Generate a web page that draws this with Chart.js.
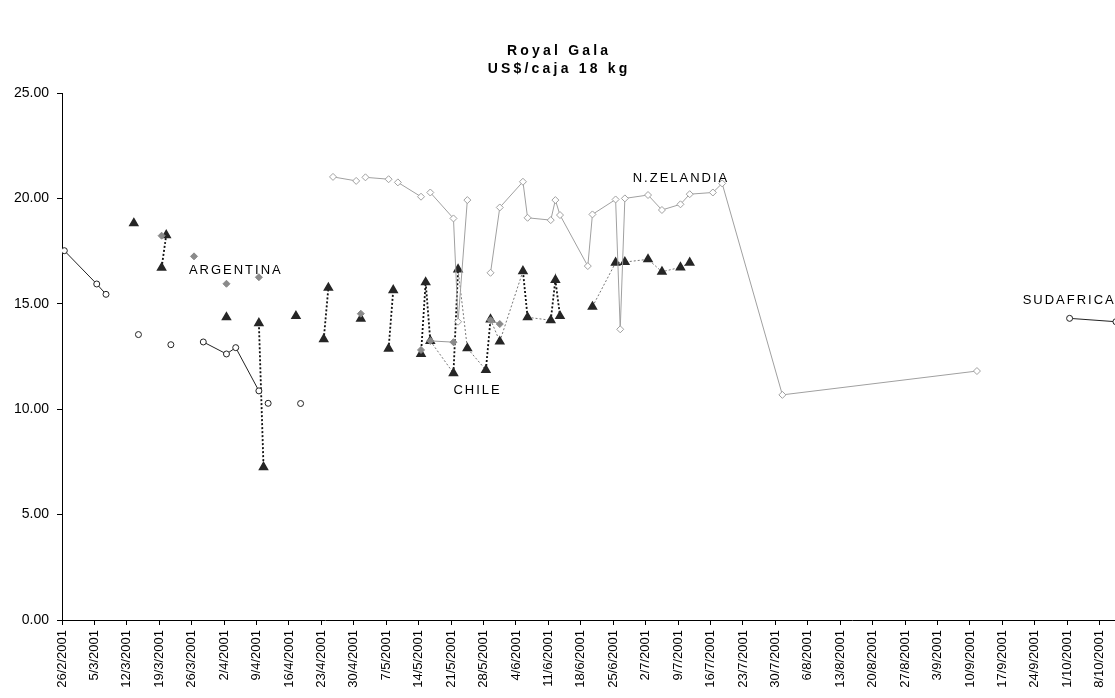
<!DOCTYPE html>
<html>
<head>
<meta charset="utf-8">
<script src="https://cdn.jsdelivr.net/npm/chart.js@4/dist/chart.umd.min.js"></script>
<style>
  html, body { margin: 0; padding: 0; background: #fff; }
</style>
</head>
<body>
<canvas id="chart" width="1115" height="698"></canvas>
<script>
const FONT = "'Liberation Sans', Arial, sans-serif";

// weekly tick labels on the date axis
const tickLabels = [
  "26/2/2001", "5/3/2001", "12/3/2001", "19/3/2001", "26/3/2001", "2/4/2001", "9/4/2001",
  "16/4/2001", "23/4/2001", "30/4/2001", "7/5/2001", "14/5/2001", "21/5/2001", "28/5/2001",
  "4/6/2001", "11/6/2001", "18/6/2001", "25/6/2001", "2/7/2001", "9/7/2001", "16/7/2001",
  "23/7/2001", "30/7/2001", "6/8/2001", "13/8/2001", "20/8/2001", "27/8/2001", "3/9/2001",
  "10/9/2001", "17/9/2001", "24/9/2001", "1/10/2001", "8/10/2001"
];

// null value = blank cell (line breaks there)
const sudafricaDates = ["26/2", "5/3", "7/3", "12/3", "14/3", "19/3", "21/3", "26/3", "28/3", "2/4", "4/4", "9/4", "10/4", "11/4", "17/4", "18/4", "20/4", "1/10", "11/10"];
const sudafricaValues = [17.52, 15.94, 15.45, null, 13.54, null, 13.06, null, 13.19, 12.62, 12.92, 10.87, null, 10.28, null, 10.27, null, 14.31, 14.15];

const chileDates = ["13/3", "14/3", "19/3", "20/3", "21/3", "2/4", "3/4", "9/4", "10/4", "11/4", "17/4", "18/4",
  "23/4", "24/4", "25/4", "1/5", "2/5", "7/5", "8/5", "9/5",
  "14/5", "15/5", "16/5", "21/5", "22/5", "24/5", "28/5", "29/5", "31/5", "5/6", "6/6", "11/6", "12/6", "13/6", "14/6",
  "20/6", "25/6", "27/6", "2/7", "5/7", "9/7", "11/7"];
const chileValues = [18.82, null, 16.71, 18.26, null, 14.36, null, 14.08, 7.25, null, 14.42, null,
  13.32, 15.76, null, 14.29, null, 12.87, 15.65, null,
  12.62, 16.02, 13.24, 11.71, 16.63, 12.89, 11.86, 14.26, 13.21, 16.55, 14.36, 14.22, 16.13, 14.42, null,
  14.86, 16.95, 16.98, 17.11, 16.52, 16.73, 16.95];

const argentinaDates = ["19/3", "20/3", "26/3", "27/3", "2/4", "3/4", "9/4", "10/4", "1/5", "2/5", "14/5", "15/5", "16/5", "21/5", "22/5", "29/5", "31/5"];
const argentinaValues = [18.23, null, 17.25, null, 15.95, null, 16.26, null, 14.53, null, 12.81, null, 13.24, 13.18, null, 14.22, 14.04];

const zelandiaDates = ["25/4", "30/4", "1/5", "2/5", "7/5", "8/5", "9/5", "14/5", "15/5", "16/5", "21/5", "22/5", "24/5", "25/5",
  "29/5", "31/5", "5/6", "6/6", "11/6", "12/6", "13/6", "19/6", "20/6", "25/6", "26/6", "27/6", "2/7", "5/7", "9/7", "11/7",
  "16/7", "18/7", "31/7", "11/9"];
const zelandiaValues = [21.02, 20.83, null, 21.0, 20.91, null, 20.76, 20.08, null, 20.28, 19.05, 14.15, 19.92, null,
  16.47, 19.57, 20.79, 19.08, 18.97, 19.92, 19.21, 16.79, 19.24, 19.95, 13.79, 20.0, 20.16, 19.45, 19.72, 20.2,
  20.28, 20.71, 10.68, 11.81];

// text labels placed in data units
const seriesNames = ["ARGENTINA", "CHILE", "N.ZELANDIA", "SUDAFRICA"];
const nameDays = [37.3, 89.5, 133.4, 217.2];
const nameValues = [16.57, 10.91, 20.95, 15.18];

const START = Date.UTC(2001, 1, 26);
function dayOf(s) {
  const [d, m] = s.split("/").map(Number);
  return Math.round((Date.UTC(2001, m - 1, d) - START) / 86400000);
}
// points sit in the middle of their day, like Excel's date axis
function toPoints(dates, values) {
  return dates.map((d, i) => ({ x: dayOf(d) + 0.5, y: values[i] }));
}

const namesPlugin = {
  id: "names",
  afterDatasetsDraw(chart) {
    const ctx = chart.ctx;
    ctx.save();
    ctx.font = "13px " + FONT;
    ctx.letterSpacing = "2px";
    ctx.fillStyle = "#000";
    ctx.textAlign = "center";
    ctx.textBaseline = "middle";
    seriesNames.forEach((n, i) => {
      ctx.fillText(n, chart.scales.x.getPixelForValue(nameDays[i]) + 1, chart.scales.y.getPixelForValue(nameValues[i]));
    });
    ctx.restore();
  }
};

const titlePlugin = {
  id: "titleText",
  afterDraw(chart) {
    const ctx = chart.ctx;
    ctx.save();
    ctx.font = "bold 14px " + FONT;
    ctx.letterSpacing = "3.2px";
    ctx.fillStyle = "#000";
    ctx.textAlign = "center";
    ctx.textBaseline = "middle";
    ctx.fillText("Royal Gala", chart.width / 2 + 1.6, 51);
    ctx.fillText("US$/caja 18 kg", chart.width / 2 + 1.6, 69);
    ctx.restore();
  }
};

new Chart(document.getElementById("chart"), {
  type: "line",
  data: {
    datasets: [
      {
        label: "N.ZELANDIA",
        data: toPoints(zelandiaDates, zelandiaValues),
        borderColor: "#a0a0a0",
        borderWidth: 1,
        pointStyle: "rectRot",
        pointRadius: 3.5,
        pointBackgroundColor: "#fff",
        pointBorderColor: "#a0a0a0",
        pointBorderWidth: 1,
        tension: 0
      },
      {
        label: "ARGENTINA",
        data: toPoints(argentinaDates, argentinaValues),
        borderColor: "#999",
        borderWidth: 1,
        pointStyle: "rectRot",
        pointRadius: 3.5,
        pointBackgroundColor: "#8a8a8a",
        pointBorderColor: "#8a8a8a",
        tension: 0
      },
      {
        label: "SUDAFRICA",
        data: toPoints(sudafricaDates, sudafricaValues),
        borderColor: "#222",
        borderWidth: 1,
        pointStyle: "circle",
        pointRadius: 3,
        pointBackgroundColor: "#fff",
        pointBorderColor: "#222",
        pointBorderWidth: 1,
        tension: 0
      },
      {
        label: "CHILE",
        data: toPoints(chileDates, chileValues),
        borderColor: "#111",
        borderWidth: 1.6,
        borderDash: [2, 2],
        segment: {
          borderColor: c => (c.p1.parsed.x - c.p0.parsed.x) <= 1.5 ? "#111" : "#777",
          borderWidth: c => (c.p1.parsed.x - c.p0.parsed.x) <= 1.5 ? 1.8 : 1
        },
        pointStyle: "triangle",
        pointRadius: 4.5,
        pointBackgroundColor: "#262626",
        pointBorderColor: "#262626",
        tension: 0
      }
    ]
  },
  options: {
    responsive: false,
    animation: false,
    spanGaps: false,
    layout: { autoPadding: false, padding: { top: 93, left: 0, right: 0, bottom: 0 } },
    plugins: {
      legend: { display: false },
      tooltip: { enabled: false },
      title: { display: false }
    },
    scales: {
      x: {
        type: "linear",
        min: 0,
        max: 227.3,
        afterBuildTicks: s => { s.ticks = tickLabels.map((_, i) => ({ value: i * 7 })); },
        afterFit: s => { s.height = 78; s.paddingLeft = 0; s.paddingRight = 0; },
        grid: { drawOnChartArea: false, drawTicks: true, tickLength: 5, color: "#000" },
        border: { color: "#000", width: 1 },
        ticks: {
          autoSkip: false,
          minRotation: 90,
          maxRotation: 90,
          padding: 5,
          color: "#000",
          font: { family: FONT, size: 13 },
          callback: (v, i) => tickLabels[i]
        }
      },
      y: {
        min: 0,
        max: 25,
        afterFit: s => { s.width = 62; },
        grid: { drawOnChartArea: false, drawTicks: true, tickLength: 5, color: "#000" },
        border: { color: "#000", width: 1 },
        ticks: {
          stepSize: 5,
          padding: 8,
          color: "#000",
          font: { family: FONT, size: 14 },
          callback: v => v.toFixed(2)
        }
      }
    }
  },
  plugins: [namesPlugin, titlePlugin]
});
</script>
</body>
</html>
